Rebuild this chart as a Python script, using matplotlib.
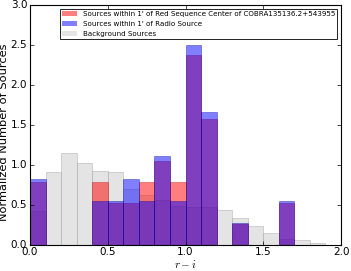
import numpy as np
import matplotlib
matplotlib.use("Agg")
import matplotlib.pyplot as plt
from matplotlib.patches import Patch

plt.style.use('classic')

bin_left = np.round(np.arange(0.0, 2.0, 0.1), 2)
red_vals = [0.79, 0, 0, 0, 0.79, 0.53, 0.53, 0.79, 1.05, 0.79,
            2.37, 1.58, 0, 0.26, 0, 0, 0.53, 0, 0, 0]
blue_vals = [0.83, 0, 0, 0, 0.55, 0.55, 0.83, 0.55, 1.11, 0.55,
             2.50, 1.66, 0, 0.28, 0, 0, 0.55, 0, 0, 0]
gray_vals = [0.42, 0.91, 1.15, 1.02, 0.93, 0.91, 0.70, 0.62, 0.56, 0.49,
             0.47, 0.47, 0.44, 0.34, 0.24, 0.15, 0.07, 0.06, 0.03, 0]

labels = ["Sources within 1' of Red Sequence Center of COBRA135136.2+543955",
          "Sources within 1' of Radio Source",
          "Background Sources"]

fig = plt.figure(figsize=(3.51, 2.71), dpi=100)
fig.patch.set_facecolor('white')
ax = fig.add_axes([30/351, 26/271, 311/351, 240/271])

ax.bar(bin_left, gray_vals, width=0.1, align='edge', color='lightgray', alpha=0.6,
       edgecolor='#a0a0a0', linewidth=0.5)
ax.bar(bin_left, red_vals, width=0.1, align='edge', color='red', alpha=0.5,
       edgecolor='#c00000', linewidth=0.5)
ax.bar(bin_left, blue_vals, width=0.1, align='edge', color='blue', alpha=0.5,
       edgecolor='#0000a0', linewidth=0.5)

ax.set_xlim(0, 2.0)
ax.set_ylim(0, 3.0)
ax.set_xticks([0.0, 0.5, 1.0, 1.5, 2.0])
ax.set_yticks([0.0, 0.5, 1.0, 1.5, 2.0, 2.5, 3.0])
ax.tick_params(labelsize=7.5, length=3, width=0.5)
ax.tick_params(axis='x', pad=1.5)
ax.tick_params(axis='y', pad=2)
for s in ax.spines.values():
    s.set_linewidth(0.8)
ax.set_xlabel(r'$r-i$', fontsize=8, labelpad=1)
ax.set_ylabel('Normalized Number of Sources', fontsize=8.2)
ax.yaxis.set_label_coords(-0.066, 0.47)
handles = [Patch(facecolor='red', alpha=0.5, edgecolor='none'),
           Patch(facecolor='blue', alpha=0.5, edgecolor='none'),
           Patch(facecolor='lightgray', alpha=0.6, edgecolor='none')]
leg = ax.legend(handles, labels, loc='upper right', fontsize=5.1, handlelength=2.1,
                handleheight=0.7, handletextpad=0.8, borderpad=0.35,
                labelspacing=0.55, borderaxespad=0.5, fancybox=False)
leg.get_frame().set_linewidth(0.6)

fig.savefig('out.png', dpi=100, facecolor='white')
